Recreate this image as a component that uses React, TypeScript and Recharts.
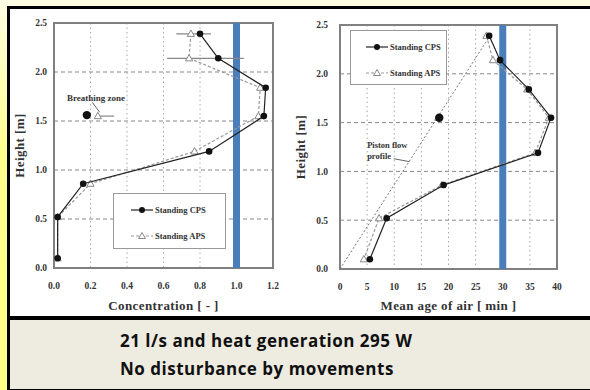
import React from 'react';
import {
  ScatterChart, Scatter, XAxis, YAxis, CartesianGrid, ReferenceLine, ReferenceArea,
  ReferenceDot, ErrorBar, Legend,
} from 'recharts';

// axis ticks
const heightTicks = [0, 0.5, 1.0, 1.5, 2.0, 2.5];
const concTicks = [0, 0.2, 0.4, 0.6, 0.8, 1.0, 1.2];
const ageTicks = [0, 5, 10, 15, 20, 25, 30, 35, 40];

// measuring heights [m]
const heights = [2.39, 2.14, 1.84, 1.55, 1.19, 0.86, 0.52, 0.1];

// concentration [-]
const concCPS = [0.8, 0.9, 1.16, 1.15, 0.85, 0.16, 0.02, 0.02];
const concAPS = [0.75, 0.74, 1.13, 1.12, 0.77, 0.2, 0.02, 0.02];
const concAPSErr = [[0.08, 0.11], [0.12, 0.3], [0, 0], [0, 0], [0, 0], [0, 0], [0, 0], [0, 0]];

// breathing zone
const breathHeight = 1.55;
const breathConcCPS = 0.18;
const breathConcAPS = 0.24;
const breathConcAPSErr = [0, 0.09];

// mean age of air [min]
const ageCPS = [27.5, 29.5, 34.8, 38.9, 36.5, 19.1, 8.6, 5.5];
const ageAPS = [27.0, 28.2, 34.5, 38.5, 36.0, 18.8, 7.2, 4.4];
const breathAgeCPS = 18.3;
const breathAgeAPS = 18.1;

// piston flow profile
const pistonAge = [0, 28];
const pistonHeight = [0, 2.42];

const blueConc = 1.0;
const blueAge = 30;

const serif = '"Liberation Serif", "DejaVu Serif", serif';
const tickStyle = { fontSize: 9.5, fontWeight: 700, fontFamily: serif, fill: '#333' };
const titleStyle = { fontSize: 13, fontWeight: 700, fontFamily: serif, fill: '#333', letterSpacing: 0.4 };
const BLUE = '#4A7EBB';

const concCPSData = heights.map((y, i) => ({ x: concCPS[i], y }));
const concAPSData = heights.map((y, i) => ({ x: concAPS[i], y, err: concAPSErr[i] }));
const ageCPSData = heights.map((y, i) => ({ x: ageCPS[i], y }));
const ageAPSData = heights.map((y, i) => ({ x: ageAPS[i], y }));
const pistonData = pistonAge.map((x, i) => ({ x, y: pistonHeight[i] }));

const Dot = (p: any) => <circle cx={p.cx} cy={p.cy} r={3.3} fill="#111" />;
const BigDot = (p: any) => <circle cx={p.cx} cy={p.cy} r={4.2} fill="#111" />;
const Tri = (p: any) => (
  <polygon
    points={`${p.cx},${p.cy - 3.8} ${p.cx + 3.6},${p.cy + 2.6} ${p.cx - 3.6},${p.cy + 2.6}`}
    fill="#fff" stroke="#888" strokeWidth={1}
  />
);
const NoShape = () => <g />;

function LegendBox({ width, height, pad }: { width: number; height: number; pad: number }) {
  const row = (top: number, aps: boolean) => (
    <div style={{ position: 'absolute', left: 0, right: 0, top: top - 5, height: 10, display: 'flex', alignItems: 'center' }}>
      <svg width={22} height={10} style={{ marginLeft: pad }}>
        <line x1={0} y1={5} x2={22} y2={5} stroke={aps ? '#999' : '#222'} strokeWidth={1.2} strokeDasharray={aps ? '3 2' : undefined} />
        {aps
          ? <polygon points="11,1.5 14.5,7.5 7.5,7.5" fill="#fff" stroke="#888" />
          : <circle cx={11} cy={5} r={3} fill="#111" />}
      </svg>
      <span style={{ fontFamily: serif, fontWeight: 700, fontSize: 8.5, color: '#333', marginLeft: 2, whiteSpace: 'nowrap' }}>
        {aps ? 'Standing APS' : 'Standing CPS'}
      </span>
    </div>
  );
  return (
    <div style={{ position: 'relative', width, height, border: '1.5px solid #999', boxSizing: 'border-box', background: '#fff' }}>
      {row(16, false)}
      {row(42, true)}
    </div>
  );
}

const yLabel = (text: string, x: number) => (p: any) => {
  const vb = p.viewBox;
  const cy = vb.y + vb.height / 2;
  return (
    <text x={x} y={cy} transform={`rotate(-90, ${x}, ${cy})`} textAnchor="middle" dominantBaseline="central" style={titleStyle}>
      {text}
    </text>
  );
};

function ConcChart() {
  return (
    <ScatterChart width={285} height={306} margin={{ top: 14, right: 22, left: 0, bottom: 0 }}>
      <CartesianGrid stroke="#aaa" strokeDasharray="1.5 3" horizontal={false} />
      <CartesianGrid stroke="#888" strokeDasharray="4 3" vertical={false} />
      <XAxis type="number" dataKey="x" domain={[0, 1.2]} ticks={concTicks} tickFormatter={(v) => v.toFixed(1)}
        height={47} tickSize={0} tickMargin={14} axisLine={false} tick={tickStyle}
        label={{ value: 'Concentration   [ - ]', position: 'insideBottom', offset: 5, style: titleStyle }} />
      <YAxis type="number" dataKey="y" domain={[0, 2.5]} ticks={heightTicks} tickFormatter={(v) => v.toFixed(1)}
        width={44} tickSize={0} tickMargin={7} axisLine={false} tick={tickStyle} label={yLabel('Height   [m]', 9)} />
      <ReferenceArea x1={0} x2={1.2} y1={0} y2={2.5} fill="none" stroke="#808080" strokeWidth={2} />
      <ReferenceLine x={blueConc} stroke={BLUE} strokeWidth={7} />
      <Scatter name="Standing APS" data={concAPSData} line={{ stroke: '#999', strokeWidth: 1.2, strokeDasharray: '3 2' }}
        shape={Tri} isAnimationActive={false}>
        <ErrorBar dataKey="err" direction="x" width={0} stroke="#888" strokeWidth={1.2} />
      </Scatter>
      <Scatter name="Standing CPS" data={concCPSData} line={{ stroke: '#222', strokeWidth: 1.2 }} shape={Dot} isAnimationActive={false} />
      <Scatter data={[{ x: breathConcAPS, y: breathHeight, err: breathConcAPSErr }]} shape={Tri} isAnimationActive={false}>
        <ErrorBar dataKey="err" direction="x" width={0} stroke="#888" strokeWidth={1.2} />
      </Scatter>
      <Scatter data={[{ x: breathConcCPS, y: breathHeight + 0.01 }]} shape={BigDot} isAnimationActive={false} />
      <ReferenceLine segment={[{ x: 0.21, y: 1.69 }, { x: 0.25, y: 1.59 }]} stroke="#666" />
      <ReferenceDot x={0.23} y={1.74} r={0} fill="none" stroke="none"
        label={{ value: 'Breathing zone', position: 'center', style: { fontSize: 9, fontWeight: 700, fontFamily: serif, fill: '#333' } }} />
      <Legend layout="vertical" align="center" verticalAlign="middle"
        wrapperStyle={{ left: 103, top: 184, width: 113, height: 56 }} content={() => <LegendBox width={113} height={56} pad={17} />} />
    </ScatterChart>
  );
}

function AgeChart() {
  return (
    <ScatterChart width={300} height={306} margin={{ top: 16, right: 33, left: 0, bottom: 0 }}>
      <CartesianGrid stroke="#aaa" strokeDasharray="1.5 3" horizontal={false} />
      <CartesianGrid stroke="#888" strokeDasharray="4 3" vertical={false} />
      <XAxis type="number" dataKey="x" domain={[0, 40]} ticks={ageTicks}
        height={46} tickSize={0} tickMargin={14} axisLine={false} tick={tickStyle}
        label={{ value: 'Mean age of air   [ min ]', position: 'insideBottom', offset: 5, style: titleStyle }} />
      <YAxis type="number" dataKey="y" domain={[0, 2.5]} ticks={heightTicks} tickFormatter={(v) => v.toFixed(1)}
        width={50} tickSize={0} tickMargin={12} axisLine={false} tick={tickStyle} label={yLabel('Height   [m]', 10)} />
      <ReferenceArea x1={0} x2={40} y1={0} y2={2.5} fill="none" stroke="#808080" strokeWidth={2} />
      <Scatter data={pistonData} line={{ stroke: '#777', strokeWidth: 1, strokeDasharray: '2 2' }} shape={NoShape} isAnimationActive={false} />
      <Scatter name="Standing APS" data={ageAPSData} line={{ stroke: '#999', strokeWidth: 1.2, strokeDasharray: '3 2' }} shape={Tri} isAnimationActive={false} />
      <Scatter name="Standing CPS" data={ageCPSData} line={{ stroke: '#222', strokeWidth: 1.2 }} shape={Dot} isAnimationActive={false} />
      <Scatter data={[{ x: breathAgeAPS, y: breathHeight }]} shape={Tri} isAnimationActive={false} />
      <Scatter data={[{ x: breathAgeCPS, y: breathHeight }]} shape={BigDot} isAnimationActive={false} />
      <ReferenceLine x={blueAge} stroke={BLUE} strokeWidth={7} />
      <ReferenceLine segment={[{ x: 9.9, y: 1.13 }, { x: 12.8, y: 1.1 }]} stroke="#666" />
      <ReferenceDot x={5} y={1.27} r={0} fill="none" stroke="none"
        label={{ value: 'Piston flow', position: 'right', offset: 0, style: { fontSize: 8.5, fontWeight: 700, fontFamily: serif, fill: '#333' } }} />
      <ReferenceDot x={5} y={1.16} r={0} fill="none" stroke="none"
        label={{ value: 'profile', position: 'right', offset: 0, style: { fontSize: 8.5, fontWeight: 700, fontFamily: serif, fill: '#333' } }} />
      <Legend layout="vertical" align="center" verticalAlign="middle"
        wrapperStyle={{ left: 60, top: 21, width: 97, height: 55 }} content={() => <LegendBox width={97} height={55} pad={15} />} />
    </ScatterChart>
  );
}

export default function App() {
  return (
    <div style={{ position: 'absolute', left: 0, top: 0, width: 590, height: 390, overflow: 'hidden', background: '#FFFF99' }}>
      <div style={{ position: 'absolute', left: 0, top: 0, width: 7, height: 390, background: 'linear-gradient(#FFFDE2, #FFFF8C 40%, #FFFF88)' }} />
      <div style={{ position: 'absolute', left: 0, top: 0, width: 590, height: 6, background: '#FFFDE4' }} />
      <div style={{ position: 'absolute', left: 7, top: 6, width: 583, height: 384, background: '#000' }} />
      <div style={{ position: 'absolute', left: 10, top: 9, width: 580, height: 307, background: '#fff' }} />
      <div style={{ position: 'absolute', left: 10, top: 9 }}><ConcChart /></div>
      <div style={{ position: 'absolute', left: 290, top: 9 }}><AgeChart /></div>
      <div style={{
        position: 'absolute', left: 10, top: 320, width: 580, height: 69, background: '#EEECE1',
        fontFamily: '"Open Sans", Lato, sans-serif', fontWeight: 700, fontSize: 17, letterSpacing: 0.5, color: '#111', lineHeight: '28px',
      }}>
        <div style={{ position: 'absolute', left: 110, top: 7 }}>21 l/s and heat generation 295 W</div>
        <div style={{ position: 'absolute', left: 110, top: 35 }}>No disturbance by movements</div>
      </div>
    </div>
  );
}
